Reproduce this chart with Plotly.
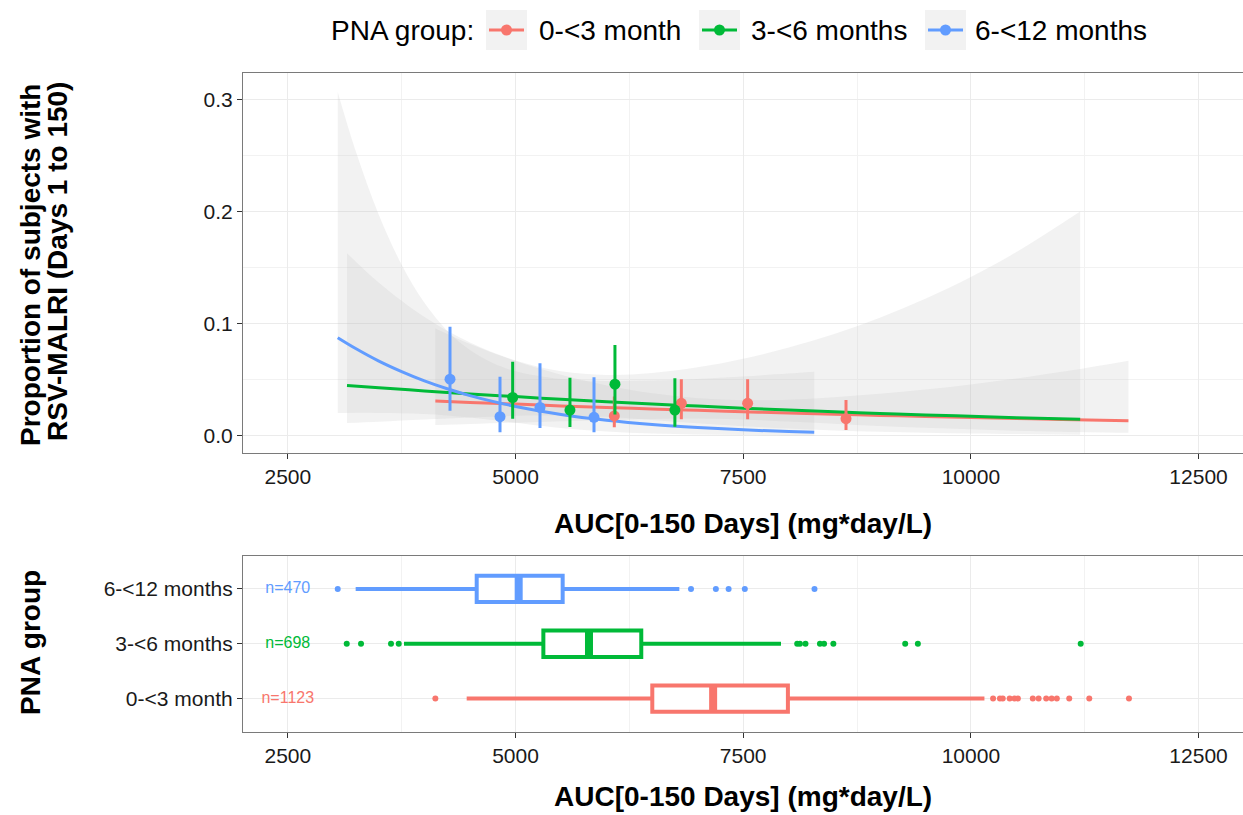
import plotly.graph_objects as go

W, H = 1243, 815
FONT = "Liberation Sans, Arial, sans-serif"

# ---- groups -------------------------------------------------------------
groups = ["0-<3 month", "3-<6 months", "6-<12 months"]
colors = ["#F8766D", "#00BA38", "#619CFF"]
n_labels = ["n=1123", "n=698", "n=470"]

# ---- observed proportions (binned by AUC) with 95% CI --------------------
obs_auc_0_3 = [6085, 6821, 7549, 8629]
obs_p_0_3 = [0.0176, 0.0289, 0.0289, 0.0152]
obs_lo_0_3 = [0.0075, 0.0146, 0.0146, 0.0051]
obs_hi_0_3 = [0.0350, 0.0504, 0.0504, 0.0319]

obs_auc_3_6 = [4969, 5598, 6092, 6750]
obs_p_3_6 = [0.0341, 0.0229, 0.0460, 0.0229]
obs_lo_3_6 = [0.0152, 0.0078, 0.0190, 0.0080]
obs_hi_3_6 = [0.0661, 0.0518, 0.0810, 0.0512]

obs_auc_6_12 = [4281, 4830, 5269, 5862]
obs_p_6_12 = [0.0505, 0.0170, 0.0252, 0.0164]
obs_lo_6_12 = [0.0223, 0.0030, 0.0068, 0.0030]
obs_hi_6_12 = [0.0973, 0.0527, 0.0646, 0.0521]

# ---- logistic fit with 95% confidence band ------------------------------
fit_auc_0_3 = [4120, 4500, 5000, 5500, 6000, 6500, 7000, 7500, 8000, 8500,
               9000, 9500, 10000, 10500, 11000, 11730]
fit_p_0_3 = [0.0310, 0.0297, 0.0282, 0.0266, 0.0252, 0.0239, 0.0226, 0.0214,
             0.0202, 0.0191, 0.0181, 0.0171, 0.0162, 0.0154, 0.0145, 0.0134]
fit_lo_0_3 = [0.0096, 0.0104, 0.0116, 0.0129, 0.0141, 0.0150, 0.0153, 0.0145,
              0.0127, 0.0107, 0.0087, 0.0070, 0.0057, 0.0045, 0.0036, 0.0026]
fit_hi_0_3 = [0.0957, 0.0818, 0.0667, 0.0544, 0.0449, 0.0378, 0.0334, 0.0316,
              0.0321, 0.0343, 0.0374, 0.0412, 0.0458, 0.0510, 0.0570, 0.0670]

fit_auc_3_6 = [3150, 3500, 4000, 4500, 5000, 5500, 6000, 6500, 7000, 7500,
               8000, 8500, 9000, 9500, 10000, 10500, 11200]
fit_p_3_6 = [0.0449, 0.0429, 0.0400, 0.0373, 0.0349, 0.0325, 0.0303, 0.0283,
             0.0264, 0.0246, 0.0229, 0.0213, 0.0199, 0.0185, 0.0173, 0.0161, 0.0146]
fit_lo_3_6 = [0.0113, 0.0125, 0.0144, 0.0163, 0.0178, 0.0181, 0.0168, 0.0141,
              0.0112, 0.0085, 0.0064, 0.0047, 0.0035, 0.0026, 0.0019, 0.0014, 0.0009]
fit_hi_3_6 = [0.1630, 0.1365, 0.1059, 0.0831, 0.0671, 0.0575, 0.0542, 0.0559,
              0.0610, 0.0687, 0.0788, 0.0909, 0.1054, 0.1223, 0.1417, 0.1640, 0.2002]

fit_auc_6_12 = [3048, 3250, 3500, 3750, 4000, 4250, 4500, 4750, 5000, 5500,
                6000, 6500, 7000, 7500, 8000, 8280]
fit_p_6_12 = [0.0875, 0.0776, 0.0666, 0.0572, 0.0489, 0.0419, 0.0358, 0.0306,
              0.0261, 0.0189, 0.0137, 0.0099, 0.0072, 0.0052, 0.0037, 0.0031]
fit_lo_6_12 = [0.0202, 0.0204, 0.0203, 0.0200, 0.0193, 0.0181, 0.0163, 0.0141,
               0.0116, 0.0069, 0.0038, 0.0019, 0.0010, 0.0005, 0.0002, 0.0002]
fit_hi_6_12 = [0.3070, 0.2530, 0.1970, 0.1527, 0.1187, 0.0938, 0.0765, 0.0649,
               0.0576, 0.0506, 0.0488, 0.0492, 0.0507, 0.0529, 0.0555, 0.0571]

# ---- AUC distribution per group (box plot statistics) --------------------
box_q1 = [6502, 5306, 4574]
box_median = [7170, 5807, 5035]
box_q3 = [7991, 6381, 5518]
box_lowerfence = [4464, 3776, 3245]
box_upperfence = [10149, 7915, 6799]
outliers_0_3 = [4120, 10244, 10319, 10350, 10426, 10479, 10516, 10680, 10744,
                10827, 10887, 10944, 11080, 11300, 11736]
outliers_3_6 = [3147, 3304, 3633, 3718, 8093, 8123, 8184, 8343, 8388, 8490,
                9279, 9418, 11206]
outliers_6_12 = [3048, 6927, 7200, 7340, 7518, 8283]

x_ticks = [2500, 5000, 7500, 10000, 12500]
x_tick_text = ["2500", "5000", "7500", "10000", "12500"]
y_ticks = [0.0, 0.1, 0.2, 0.3]
n_label_auc = 2500

obs = [(obs_auc_0_3, obs_p_0_3, obs_lo_0_3, obs_hi_0_3),
       (obs_auc_3_6, obs_p_3_6, obs_lo_3_6, obs_hi_3_6),
       (obs_auc_6_12, obs_p_6_12, obs_lo_6_12, obs_hi_6_12)]
fits = [(fit_auc_0_3, fit_p_0_3, fit_lo_0_3, fit_hi_0_3),
        (fit_auc_3_6, fit_p_3_6, fit_lo_3_6, fit_hi_3_6),
        (fit_auc_6_12, fit_p_6_12, fit_lo_6_12, fit_hi_6_12)]
outliers = [outliers_0_3, outliers_3_6, outliers_6_12]

BAND = "rgba(195,195,195,0.22)"

fig = go.Figure()

# confidence bands
for auc, p, lo, hi in fits:
    fig.add_trace(go.Scatter(x=auc, y=lo, mode="lines",
                             line=dict(width=0, shape="spline"),
                             hoverinfo="skip", showlegend=False))
    fig.add_trace(go.Scatter(x=auc, y=hi, mode="lines", fill="tonexty",
                             fillcolor=BAND, line=dict(width=0, shape="spline"),
                             hoverinfo="skip", showlegend=False))

# fitted curves
for (auc, p, lo, hi), c, g in zip(fits, colors, groups):
    fig.add_trace(go.Scatter(x=auc, y=p, mode="lines", name=g,
                             line=dict(color=c, width=3, shape="spline"),
                             showlegend=False))

# observed proportions with CI
for (auc, p, lo, hi), c, g in zip(obs, colors, groups):
    fig.add_trace(go.Scatter(
        x=auc, y=p, mode="markers", name=g, showlegend=False,
        marker=dict(size=11, color=c),
        error_y=dict(type="data", symmetric=False,
                     array=[h - v for h, v in zip(hi, p)],
                     arrayminus=[v - l for v, l in zip(p, lo)],
                     color=c, thickness=3, width=0)))

# box plots of AUC by group
BOX_W = 0.48
for i, c in enumerate(colors):
    pos = i + 1
    fig.add_trace(go.Box(
        orientation="h", y=[pos], q1=[box_q1[i]], median=[box_median[i]],
        q3=[box_q3[i]], lowerfence=[box_lowerfence[i]],
        upperfence=[box_upperfence[i]], width=BOX_W, whiskerwidth=0,
        boxpoints=False, fillcolor="white", line=dict(color=c, width=4),
        xaxis="x2", yaxis="y2", showlegend=False, hoverinfo="skip"))
    fig.add_trace(go.Scatter(
        x=[box_median[i], box_median[i]], y=[pos - BOX_W / 2, pos + BOX_W / 2],
        mode="lines", line=dict(color=c, width=8), xaxis="x2", yaxis="y2",
        showlegend=False, hoverinfo="skip"))
    fig.add_trace(go.Scatter(
        x=outliers[i], y=[pos] * len(outliers[i]), mode="markers",
        marker=dict(size=6, color=c), xaxis="x2", yaxis="y2",
        showlegend=False, hoverinfo="skip"))
    fig.add_trace(go.Scatter(
        x=[n_label_auc], y=[pos], mode="text", text=[n_labels[i]],
        textfont=dict(size=16, color=c, family=FONT), textposition="middle center",
        xaxis="x2", yaxis="y2", showlegend=False, hoverinfo="skip"))

# ---- layout ------------------------------------------------------------
def px_x(v):
    return v / W


def px_y(v):
    return 1 - v / H


X_RANGE = [2008, 12988]
tickfont = dict(size=21, color="#1A1A1A", family=FONT)
xa = dict(range=X_RANGE, tickvals=x_ticks, ticktext=x_tick_text,
          showgrid=True, gridcolor="#EBEBEB",
          gridwidth=1.2, zeroline=False, showline=True, linecolor="#7A7A7A",
          linewidth=1.2, mirror=True, ticks="outside", ticklen=5,
          tickcolor="#333333", tickfont=tickfont,
          minor=dict(dtick=1250, tick0=0, showgrid=True, gridcolor="#F2F2F2",
                     gridwidth=1, ticks=""),
          domain=[px_x(243), 1.0])

fig.update_layout(
    width=W, height=H, margin=dict(l=0, r=0, t=0, b=0),
    paper_bgcolor="white", plot_bgcolor="white",
    font=dict(family=FONT, color="#000000"),
    showlegend=False,
    xaxis=dict(xa, anchor="y"),
    yaxis=dict(range=[-0.0152, 0.3236], tickvals=y_ticks, tickformat=".1f",
               showgrid=True, gridcolor="#EBEBEB", gridwidth=1.2,
               zeroline=False, showline=True, linecolor="#7A7A7A", linewidth=1.2,
               mirror=False, ticks="outside", ticklen=5, tickcolor="#333333",
               tickfont=tickfont,
               minor=dict(dtick=0.05, tick0=0, showgrid=True,
                          gridcolor="#F2F2F2", gridwidth=1, ticks=""),
               domain=[px_y(452.7), px_y(73.3)], anchor="x"),
    xaxis2=dict(xa, anchor="y2"),
    yaxis2=dict(range=[0.4, 3.6], tickvals=[1, 2, 3], ticktext=groups,
                showgrid=True, gridcolor="#EBEBEB", gridwidth=1.2,
                zeroline=False, showline=True, linecolor="#7A7A7A", linewidth=1.2,
                mirror=False, ticks="outside", ticklen=5, tickcolor="#333333",
                tickfont=tickfont, domain=[px_y(731.5), px_y(556)], anchor="x2"),
)

title_font = dict(size=28, color="#000000", family=FONT)
annotations = [
    dict(text="<b>AUC[0-150 Days] (mg*day/L)</b>", x=px_x(743), y=px_y(523),
         xref="paper", yref="paper", showarrow=False, font=title_font,
         xanchor="center", yanchor="middle"),
    dict(text="<b>AUC[0-150 Days] (mg*day/L)</b>", x=px_x(743), y=px_y(796),
         xref="paper", yref="paper", showarrow=False, font=title_font,
         xanchor="center", yanchor="middle"),
    dict(text="<b>Proportion of subjects with</b>", x=px_x(30), y=px_y(265),
         xref="paper", yref="paper", showarrow=False, font=title_font,
         textangle=-90, xanchor="center", yanchor="middle"),
    dict(text="<b>RSV-MALRI (Days 1 to 150)</b>", x=px_x(58), y=px_y(262),
         xref="paper", yref="paper", showarrow=False, font=title_font,
         textangle=-90, xanchor="center", yanchor="middle"),
    dict(text="<b>PNA group</b>", x=px_x(30), y=px_y(643),
         xref="paper", yref="paper", showarrow=False, font=title_font,
         textangle=-90, xanchor="center", yanchor="middle"),
    dict(text="PNA group:", x=px_x(329), y=px_y(30), xref="paper", yref="paper",
         showarrow=False, font=dict(size=28, color="#000000", family=FONT),
         xanchor="left", yanchor="middle"),
]

# legend keys
key_left = [486, 699, 925]
key_text_left = [537, 749, 973]
shapes = []
for kx, tx, c, g in zip(key_left, key_text_left, colors, groups):
    shapes.append(dict(type="rect", xref="paper", yref="paper",
                       x0=px_x(kx), x1=px_x(kx + 41), y0=px_y(50), y1=px_y(10),
                       fillcolor="#F2F2F2", line=dict(width=0), layer="below"))
    shapes.append(dict(type="line", xref="paper", yref="paper",
                       x0=px_x(kx + 3), x1=px_x(kx + 38), y0=px_y(30), y1=px_y(30),
                       line=dict(color=c, width=3)))
    shapes.append(dict(type="circle", xref="paper", yref="paper",
                       x0=px_x(kx + 15), x1=px_x(kx + 26),
                       y0=px_y(35.5), y1=px_y(24.5),
                       fillcolor=c, line=dict(width=0)))
    annotations.append(dict(text=g, x=px_x(tx), y=px_y(30), xref="paper",
                            yref="paper", showarrow=False,
                            font=dict(size=28, color="#000000", family=FONT),
                            xanchor="left", yanchor="middle"))

fig.update_layout(annotations=annotations, shapes=shapes)

fig.write_html("out.html")
